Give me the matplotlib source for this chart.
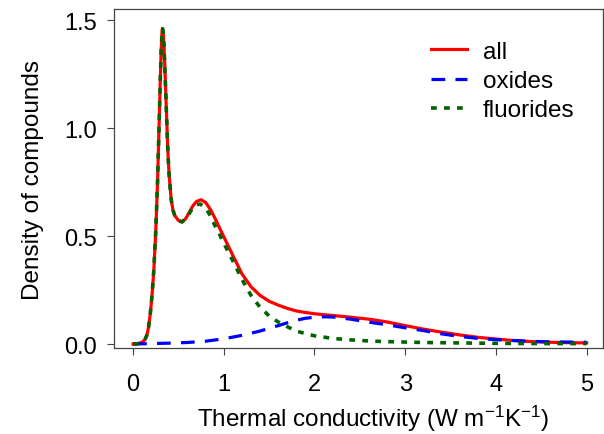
import numpy as np
import matplotlib
matplotlib.use("Agg")
from matplotlib import pyplot as plt

plt.rcParams['font.family'] = ['Liberation Sans', 'DejaVu Sans']
plt.rcParams['mathtext.fontset'] = 'custom'
plt.rcParams['mathtext.rm'] = 'Liberation Sans'
plt.rcParams['mathtext.it'] = 'Liberation Sans:italic'

# density of all compounds (red)
x_all = [0, 0.05, 0.1, 0.13, 0.15, 0.17, 0.19, 0.21, 0.23, 0.25, 0.27, 0.29, 0.30, 0.31,
         0.32, 0.325, 0.33, 0.34, 0.35, 0.36, 0.37, 0.38, 0.39, 0.40, 0.42, 0.44, 0.46,
         0.50, 0.54, 0.58, 0.62, 0.66, 0.70, 0.75, 0.80, 0.85, 0.90, 0.95, 1.0, 1.1, 1.2,
         1.3, 1.4, 1.5, 1.6, 1.7, 1.8, 1.9, 2.0, 2.2, 2.4, 2.6, 2.8, 3.0, 3.2, 3.4, 3.6,
         3.8, 4.0, 4.2, 4.4, 4.6, 4.8, 5.0]
y_all = [0.0, 0.001, 0.008, 0.02, 0.038, 0.075, 0.14, 0.23, 0.35, 0.52, 0.75, 1.06, 1.22, 1.36,
         1.45, 1.46, 1.45, 1.39, 1.29, 1.17, 1.05, 0.93, 0.84, 0.77, 0.67, 0.62, 0.595,
         0.572, 0.565, 0.58, 0.61, 0.64, 0.66, 0.668, 0.655, 0.625, 0.585, 0.54, 0.497, 0.41, 0.325,
         0.265, 0.225, 0.198, 0.18, 0.165, 0.153, 0.146, 0.14, 0.132, 0.124, 0.115, 0.102, 0.085, 0.069, 0.055, 0.042,
         0.031, 0.023, 0.016, 0.011, 0.008, 0.006, 0.005]

# oxides (blue)
x_ox = [0, 0.2, 0.4, 0.6, 0.8, 1.0, 1.2, 1.4, 1.5, 1.6, 1.7, 1.8, 1.9, 2.0, 2.1, 2.2, 2.4, 2.6,
        2.8, 3.0, 3.2, 3.4, 3.6, 3.8, 4.0, 4.2, 4.4, 4.6, 4.8, 5.0]
y_ox = [0.0, 0.002, 0.004, 0.007, 0.013, 0.024, 0.04, 0.06, 0.073, 0.085, 0.098, 0.11, 0.119, 0.124, 0.126, 0.125, 0.115, 0.101,
        0.089, 0.075, 0.062, 0.047, 0.035, 0.026, 0.02, 0.016, 0.012, 0.01, 0.009, 0.008]

# fluorides (green)
x_fl = [0, 0.05, 0.1, 0.13, 0.15, 0.17, 0.19, 0.21, 0.23, 0.25, 0.27, 0.29, 0.30, 0.31,
        0.32, 0.325, 0.33, 0.34, 0.35, 0.36, 0.37, 0.38, 0.39, 0.40, 0.42, 0.44, 0.46,
        0.50, 0.54, 0.60, 0.65, 0.70, 0.74, 0.80, 0.85, 0.90, 0.95, 1.0, 1.1, 1.2, 1.3,
        1.4, 1.5, 1.6, 1.7, 1.8, 1.9, 2.0, 2.2, 2.4, 2.6, 2.8, 3.0, 3.2, 3.4, 3.6, 3.8,
        4.0, 4.5, 5.0]
y_fl = [0.0, 0.001, 0.008, 0.02, 0.038, 0.075, 0.14, 0.23, 0.35, 0.52, 0.75, 1.06, 1.22, 1.36,
        1.45, 1.46, 1.45, 1.39, 1.29, 1.17, 1.05, 0.93, 0.84, 0.77, 0.67, 0.62, 0.595,
        0.572, 0.565, 0.59, 0.625, 0.645, 0.648, 0.63, 0.595, 0.55, 0.51, 0.467, 0.385, 0.30, 0.225,
        0.17, 0.13, 0.102, 0.08, 0.06, 0.048, 0.038, 0.026, 0.019, 0.014, 0.011, 0.009, 0.007, 0.006, 0.005, 0.004,
        0.003, 0.002, 0.002]

xticks = [0, 1, 2, 3, 4, 5]
yticks = [0.0, 0.5, 1.0, 1.5]

fig = plt.figure(figsize=(6.04, 4.35), dpi=100)
ax = fig.add_axes([114 / 604, 1 - 349 / 435, 489 / 604, 339 / 435])

ax.plot(x_all, y_all, color='#ff0000', lw=2.3, solid_joinstyle='round', label='all')
ax.plot(x_ox, y_ox, color='#0000ff', lw=2.3, dashes=(4.3, 3.2), label='oxides')
ax.plot(x_fl, y_fl, color='#006400', lw=2.6, dashes=(1.6, 2.0), label='fluorides')

ax.set_xlim(-0.21, 5.18)
ax.set_ylim(-0.0185, 1.551)
ax.set_xticks(xticks)
ax.set_xticklabels([str(t) for t in xticks])
ax.set_yticks(yticks)
ax.set_yticklabels(['%.1f' % t for t in yticks])

for s in ax.spines.values():
    s.set_linewidth(0.9)
    s.set_color('#444444')
ax.tick_params(axis='both', direction='out', length=5, width=0.8, color='#444444', labelsize=17)
ax.tick_params(axis='x', pad=13)
ax.tick_params(axis='y', pad=7)

fig.text(33 / 604, 1 - 180 / 435, 'Density of compounds', rotation=90,
         ha='center', va='center', fontsize=17.5)
fig.text(373 / 604, 1 - 427 / 435, 'Thermal conductivity (W m$^{\\mathregular{-1}}$K$^{\\mathregular{-1}}$)',
         ha='center', va='baseline', fontsize=17.5)

ax.legend(loc='upper left', bbox_to_anchor=(0.628, 0.935), frameon=False, fontsize=17.5,
          handlelength=1.5, handletextpad=0.65, labelspacing=0.3, borderaxespad=0)

fig.savefig('out.png', dpi=100)
